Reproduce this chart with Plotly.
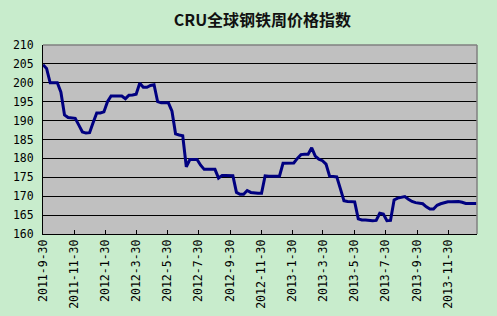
import plotly.graph_objects as go
import pandas as pd

title_text = "CRU全球钢铁周价格指数"

start_date = "2011-09-30"
index_values = [
    204.8, 203.8, 200.0, 200.0, 200.0, 197.5, 191.5, 190.8, 190.8, 190.6,
    188.8, 187.0, 186.7, 186.8, 189.5, 192.0, 192.0, 192.3, 195.0, 196.5,
    196.5, 196.5, 196.5, 195.8, 196.7, 196.8, 197.0, 199.9, 198.8, 198.8,
    199.3, 199.5, 195.0, 194.7, 194.7, 194.7, 192.5, 186.5, 186.2, 186.0,
    177.8, 179.7, 179.7, 179.7, 178.2, 177.1, 177.1, 177.1, 177.1, 174.8,
    175.5, 175.5, 175.5, 175.4, 171.0, 170.5, 170.5, 171.5, 171.0, 170.8,
    170.8, 170.8, 175.4, 175.3, 175.3, 175.3, 175.3, 178.7, 178.7, 178.7,
    178.8, 180.0, 181.0, 181.1, 181.1, 182.8, 180.6, 179.8, 179.4, 178.5,
    175.3, 175.2, 175.1, 172.0, 168.8, 168.6, 168.6, 168.5, 164.0, 163.7,
    163.7, 163.6, 163.5, 163.6, 165.5, 165.3, 163.5, 163.6, 169.0, 169.5,
    169.7, 169.9, 169.2, 168.6, 168.3, 168.2, 168.0, 167.2, 166.6, 166.6,
    167.6, 168.0, 168.3, 168.5, 168.5, 168.6, 168.6, 168.4, 168.1, 168.1,
    168.1, 168.1,
]
dates = pd.date_range(start=start_date, periods=len(index_values), freq="7D")

tick_dates = [
    "2011-09-30", "2011-11-30", "2012-01-30", "2012-03-30", "2012-05-30",
    "2012-07-30", "2012-09-30", "2012-11-30", "2013-01-30", "2013-03-30",
    "2013-05-30", "2013-07-30", "2013-09-30", "2013-11-30",
]
tick_labels = [
    "2011-9-30", "2011-11-30", "2012-1-30", "2012-3-30", "2012-5-30",
    "2012-7-30", "2012-9-30", "2012-11-30", "2013-1-30", "2013-3-30",
    "2013-5-30", "2013-7-30", "2013-9-30", "2013-11-30",
]

BG = "rgb(200,236,204)"
TITLE_FONT = "Noto Sans CJK SC"
TICK_FONT = "DejaVu Sans Mono"

fig = go.Figure()
fig.add_trace(go.Scatter(
    x=dates, y=index_values, mode="lines",
    line=dict(color="#000080", width=3),
    hoverinfo="skip", showlegend=False,
))

fig.update_layout(
    width=497, height=316,
    margin=dict(l=43, r=20, t=45, b=82, autoexpand=False),
    paper_bgcolor=BG, plot_bgcolor="#C0C0C0",
    title=dict(text=title_text, x=0.528, xanchor="center", y=0.937, yanchor="middle",
               font=dict(family=TITLE_FONT, size=16, color="#111111", weight="bold")),
    font=dict(family=TICK_FONT, size=11.5, color="black"),
    showlegend=False,
)
fig.update_xaxes(
    type="date", range=["2011-09-30", "2014-01-25"], automargin=False,
    tickvals=tick_dates, ticktext=tick_labels, tickangle=-90,
    ticks="inside", ticklen=4, tickcolor="black", tickwidth=1,
    showgrid=False, zeroline=False,
    showline=True, linecolor="black", linewidth=1,
    tickfont=dict(family=TICK_FONT, size=11.5, color="black"),
)
fig.update_yaxes(
    range=[160, 210], tickmode="linear", tick0=160, dtick=5, automargin=False,
    showgrid=True, gridcolor="black", gridwidth=1,
    zeroline=False, showline=True, linecolor="black", linewidth=1,
    ticks="", ticklabelstandoff=6,
    tickfont=dict(family=TICK_FONT, size=11.5, color="black"),
)
fig.add_shape(type="line", xref="paper", yref="paper", x0=0, x1=1, y0=1, y1=1,
              line=dict(color="#808080", width=1.5), layer="above")
fig.add_shape(type="line", xref="paper", yref="paper", x0=1, x1=1, y0=0, y1=1,
              line=dict(color="#808080", width=1.5), layer="above")

fig.write_html("out.html")
